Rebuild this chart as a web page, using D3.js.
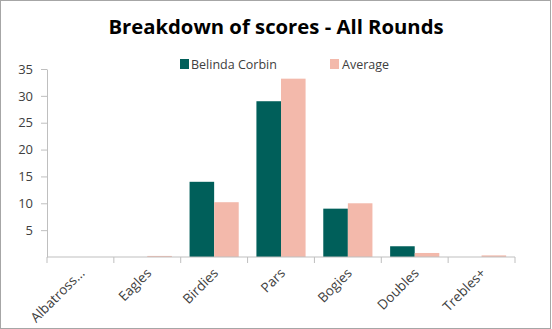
<!DOCTYPE html>
<html>
<head>
<meta charset="utf-8">
<script src="https://cdn.jsdelivr.net/npm/d3@7"></script>
<style>
  html, body { margin: 0; padding: 0; background: #fff; }
  svg { display: block; font-family: "Open Sans", "Noto Sans", sans-serif; }
</style>
</head>
<body>
<svg id="chart" width="552" height="329"></svg>
<script>
// Score categories and counts per category
const categories = ["Albatross...", "Eagles", "Birdies", "Pars", "Bogies", "Doubles", "Trebles+"];
const seriesNames = ["Belinda Corbin", "Average"];
const belindaValues = [0, 0, 14, 29, 9, 2, 0];
const averageValues = [0, 0.2, 10.2, 33.2, 10, 0.75, 0.3];
const yTicks = [5, 10, 15, 20, 25, 30, 35];
const colors = ["#005f5a", "#f3b9ab"];

const svg = d3.select("#chart");
const W = 552, H = 329;
const margin = { left: 47, right: 37, top: 69, bottom: 72 };
const plotW = W - margin.left - margin.right;
const plotH = H - margin.top - margin.bottom;

// outer frame
svg.append("rect")
  .attr("x", 0.5).attr("y", 0.5)
  .attr("width", W - 2).attr("height", H - 1)
  .attr("fill", "#fff").attr("stroke", "#a6a6a6");

svg.append("text")
  .attr("x", 276).attr("y", 34)
  .attr("text-anchor", "middle")
  .attr("font-size", 20.3).attr("font-weight", "bold")
  .attr("fill", "#000")
  .text("Breakdown of scores - All Rounds");

const g = svg.append("g").attr("transform", `translate(${margin.left},${margin.top})`);

const x = d3.scaleBand().domain(categories).range([0, plotW]).paddingInner(0).paddingOuter(0);
const xInner = d3.scaleBand().domain(seriesNames).range([0, x.bandwidth()]).paddingInner(0).paddingOuter(0.36);
const y = d3.scaleLinear().domain([0, 35]).range([plotH, 0]);

// y axis
const yAxis = g.append("g")
  .call(d3.axisLeft(y).tickValues(yTicks).tickSize(6).tickPadding(8).tickSizeOuter(0));
yAxis.select(".domain").attr("stroke", "#bfbfbf");
yAxis.selectAll(".tick line").attr("stroke", "#bfbfbf");
yAxis.selectAll(".tick text").attr("font-size", 13).attr("fill", "#404040")
  .attr("font-family", "\"Open Sans\", sans-serif");

// bars
const series = [belindaValues, averageValues];
series.forEach((vals, si) => {
  g.append("g").selectAll("rect")
    .data(categories.map((c, i) => ({ c, v: vals[i] })))
    .join("rect")
    .attr("x", d => x(d.c) + xInner(seriesNames[si]))
    .attr("width", xInner.bandwidth())
    .attr("y", d => y(d.v))
    .attr("height", d => y(0) - y(d.v))
    .attr("fill", colors[si]);
});

// x axis with boundary ticks between categories
const xAxisG = g.append("g").attr("transform", `translate(0,${plotH})`);
xAxisG.append("line")
  .attr("x1", 0).attr("x2", plotW)
  .attr("stroke", "#bfbfbf");
const bounds = categories.map(c => x(c)).concat([plotW]);
xAxisG.selectAll("line.tk").data(bounds).join("line")
  .attr("class", "tk")
  .attr("x1", d => d).attr("x2", d => d)
  .attr("y1", 0).attr("y2", 6)
  .attr("stroke", "#bfbfbf");
xAxisG.selectAll("text").data(categories).join("text")
  .attr("text-anchor", "end")
  .attr("font-size", 13.5).attr("fill", "#404040")
  .attr("transform", d => `translate(${x(d) + x.bandwidth() / 2 + 5},${17}) rotate(-45)`)
  .text(d => d);

// legend
const legend = svg.append("g");
const legendItems = [
  { name: seriesNames[0], sx: 180, tx: 191 },
  { name: seriesNames[1], sx: 330, tx: 342 }
];
legendItems.forEach((it, i) => {
  legend.append("rect").attr("x", it.sx).attr("y", 59).attr("width", 9).attr("height", 10).attr("fill", colors[i]);
  legend.append("text").attr("x", it.tx).attr("y", 68.5)
    .attr("font-size", 12.5).attr("fill", "#404040").text(it.name);
});
</script>
</body>
</html>
